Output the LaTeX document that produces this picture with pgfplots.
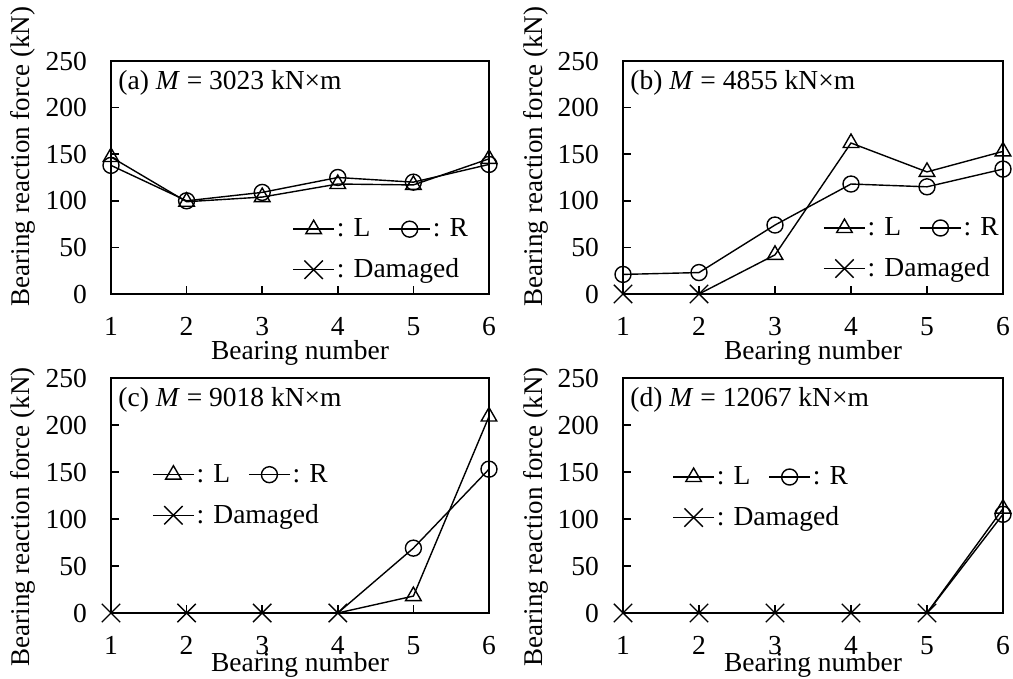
\documentclass[border=0pt]{standalone}
\usepackage{fontspec}
\setmainfont{Liberation Serif}
\usepackage{pgfplots}
\pgfplotsset{compat=1.18}
\usepackage{pgfplotstable}

\pgfplotstableread{
x L R
1 147 138
2 99 100
3 104 109
4 118 125
5 117 120
6 145 139
}\dataA
\pgfplotstableread{
x L R
1 0 21
2 0 23
3 42 74
4 162 118
5 131 115
6 153 134
}\dataB
\pgfplotstableread{
x L R
1 0 0
2 0 0
3 0 0
4 0 0
5 18 69
6 209 153
}\dataC
\pgfplotstableread{
x L R
1 0 0
2 0 0
3 0 0
4 0 0
5 0 0
6 111 105
}\dataD

\newcommand{\pf}{\fontsize{13.75}{16.5}\selectfont}
\pgfplotsset{
  panel/.style={
    scale only axis, anchor=south west,
    xmin=1, xmax=6, ymin=0, ymax=250,
    xtick={1,...,6}, ytick={0,50,...,250},
    tick align=inside, tick pos=left, major tick length=4pt,
    axis line style={line width=0.75pt},
    every tick/.style={black, line width=0.75pt},
    clip=false,
    font=\pf,
    every tick label/.append style={font=\pf},
    /pgf/number format/assume math mode=true,
    xticklabel style={yshift=-8pt},
    yticklabel style={xshift=-8.5pt},
    xlabel={Bearing number},
    ylabel={Bearing reaction force (kN)},
    every axis label/.append style={font=\pf},
    ylabel style={anchor=center, font=\fontsize{13.5}{16}\selectfont},
    legend columns=2,
    legend cell align=left,
    legend image code/.code={\draw[mark repeat=2,mark phase=2] plot coordinates {(0pt,0pt)(10.25pt,0pt)(20.5pt,0pt)};},
    legend style={draw=none, fill=none, anchor=north west, inner sep=0pt,
      font=\pf,
      row sep=9.5pt,
      nodes={inner xsep=1pt, inner ysep=0pt},
      /tikz/every even column/.append style={column sep=8pt}},
  },
  ln/.style={black, line width=0.7pt, no marks, forget plot},
  tri/.style={black, only marks, mark=triangle, mark size=4.5pt, mark options={solid, line width=0.7pt}, forget plot},
  cir/.style={black, only marks, mark=o, mark size=4pt, mark options={solid, line width=0.7pt}, forget plot},
  crs/.style={black, only marks, mark=x, mark size=6.5pt, mark options={solid, line width=0.7pt}, forget plot},
  legL/.style={black, line width=0.7pt, mark=triangle, mark size=4.5pt},
  legR/.style={black, line width=0.7pt, mark=o, mark size=4pt},
  legD/.style={black, line width=0.7pt, mark=x, mark size=6.5pt},
}

\begin{document}
\begin{tikzpicture}
\useasboundingbox (0pt,0pt) rectangle (506.5pt,339.5pt);

% (a)
\begin{axis}[panel, at={(55.5pt,192.5pt)}, width=189pt, height=116.5pt,
  legend style={at={(axis description cs:0.479,0.325)}},
  ylabel style={at={(axis description cs:-0.233,0.59)}},
  xlabel style={at={(axis description cs:0.5,0)}, anchor=center, yshift=-29.5pt}]
\addplot[ln] table[y=L]{\dataA};
\addplot[ln] table[y=R]{\dataA};
\addplot[tri] table[y=L]{\dataA};
\addplot[cir] table[y=R]{\dataA};
\addlegendimage{legL}
\addlegendimage{legR}
\addlegendimage{legD}
\legend{: L, : R, \rlap{: Damaged}}
\node[anchor=west, inner sep=0pt] at (axis description cs:0.0185,0.905) {(a) \textit{M} = 3023 kN×m};
\end{axis}

% (b)
\begin{axis}[panel, at={(311.5pt,192.5pt)}, width=190pt, height=116.5pt,
  legend style={at={(axis description cs:0.526,0.33)}},
  ylabel style={at={(axis description cs:-0.229,0.59)}},
  xlabel style={at={(axis description cs:0.5,0)}, anchor=center, yshift=-29.5pt}]
\addplot[ln] table[y=L]{\dataB};
\addplot[ln] table[y=R]{\dataB};
\addplot[tri, restrict x to domain=3:6] table[y=L]{\dataB};
\addplot[crs, restrict x to domain=1:2] table[y=L]{\dataB};
\addplot[cir] table[y=R]{\dataB};
\addlegendimage{legL}
\addlegendimage{legR}
\addlegendimage{legD}
\legend{: L, : R, \rlap{: Damaged}}
\node[anchor=west, inner sep=0pt] at (axis description cs:0.0185,0.905) {(b) \textit{M} = 4855 kN×m};
\end{axis}

% (c)
\begin{axis}[panel, at={(55.5pt,33pt)}, width=189pt, height=117.5pt,
  legend style={at={(axis description cs:0.108,0.635)}},
  ylabel style={at={(axis description cs:-0.233,0.409)}},
  xlabel style={at={(axis description cs:0.5,0)}, anchor=center, yshift=-26pt}]
\addplot[ln] table[y=L]{\dataC};
\addplot[ln] table[y=R]{\dataC};
\addplot[tri, restrict x to domain=5:6] table[y=L]{\dataC};
\addplot[cir, restrict x to domain=5:6] table[y=R]{\dataC};
\addplot[crs, restrict x to domain=1:4] table[y=L]{\dataC};
\addlegendimage{legL}
\addlegendimage{legR}
\addlegendimage{legD}
\legend{: L, : R, \rlap{: Damaged}}
\node[anchor=west, inner sep=0pt] at (axis description cs:0.0185,0.905) {(c) \textit{M} = 9018 kN×m};
\end{axis}

% (d)
\begin{axis}[panel, at={(311.5pt,33pt)}, width=190pt, height=117.5pt,
  legend style={at={(axis description cs:0.129,0.625)}},
  ylabel style={at={(axis description cs:-0.229,0.409)}},
  xlabel style={at={(axis description cs:0.5,0)}, anchor=center, yshift=-26pt}]
\addplot[ln] table[y=L]{\dataD};
\addplot[ln] table[y=R]{\dataD};
\addplot[tri, restrict x to domain=6:6] table[y=L]{\dataD};
\addplot[cir, restrict x to domain=6:6] table[y=R]{\dataD};
\addplot[crs, restrict x to domain=1:5] table[y=L]{\dataD};
\addlegendimage{legL}
\addlegendimage{legR}
\addlegendimage{legD}
\legend{: L, : R, \rlap{: Damaged}}
\node[anchor=west, inner sep=0pt] at (axis description cs:0.0185,0.905) {(d) \textit{M} = 12067 kN×m};
\end{axis}
\end{tikzpicture}
\end{document}
